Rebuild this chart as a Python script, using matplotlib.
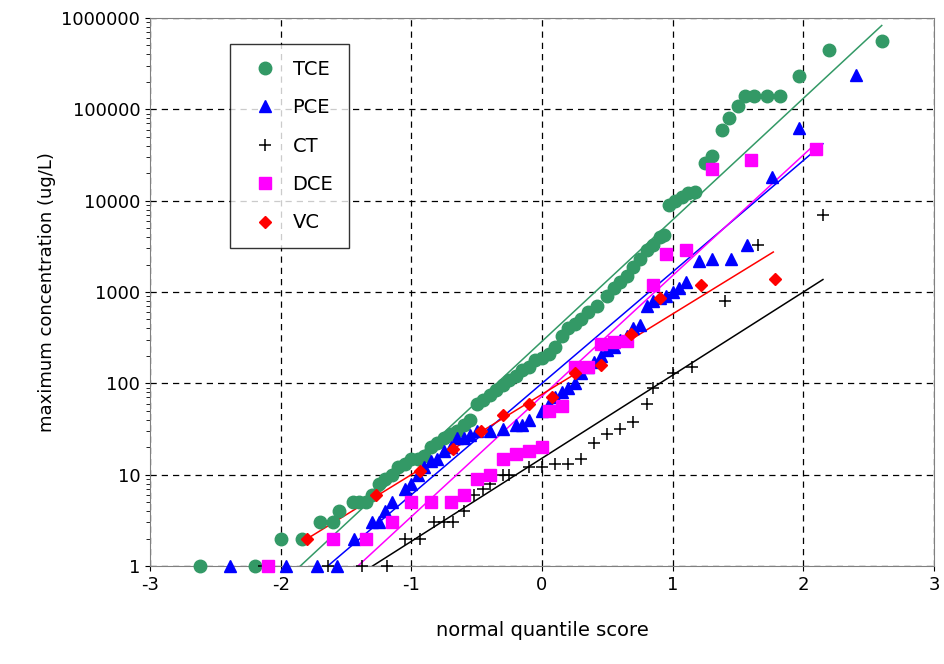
import numpy as np
import matplotlib
matplotlib.use("Agg")
import matplotlib.pyplot as plt
from matplotlib.ticker import FixedLocator, FixedFormatter, NullFormatter, LogLocator

plt.rcParams['axes.unicode_minus'] = False

tce_x = [-2.62,-2.2,-2.0,-1.84,-1.7,-1.6,-1.55,-1.45,-1.4,-1.35,-1.3,-1.25,-1.2,-1.15,-1.1,-1.05,-1.0,-0.95,-0.9,-0.85,-0.8,-0.75,-0.7,-0.65,-0.6,-0.55,-0.5,-0.45,-0.4,-0.35,-0.3,-0.25,-0.2,-0.15,-0.1,-0.05,0,0.05,0.1,0.15,0.2,0.25,0.3,0.35,0.42,0.5,0.55,0.6,0.65,0.7,0.75,0.8,0.85,0.9,0.93,0.97,1.02,1.07,1.12,1.17,1.25,1.3,1.38,1.43,1.5,1.55,1.62,1.72,1.82,1.97,2.2,2.6]
tce_y = [1,1,2,2,3,3,4,5,5,5,6,8,9,10,12,13,15,15,16,20,22,25,28,30,35,40,60,65,75,85,95,110,120,140,150,180,190,210,250,330,400,450,500,600,700,900,1100,1300,1500,1900,2300,2900,3300,4000,4200,9000,10000,11000,12000,12500,26000,31000,60000,80000,110000,140000,140000,140000,140000,230000,450000,560000]

pce_x = [-2.39,-1.96,-1.72,-1.57,-1.44,-1.3,-1.25,-1.2,-1.15,-1.05,-1.0,-0.95,-0.9,-0.85,-0.8,-0.75,-0.7,-0.65,-0.6,-0.55,-0.5,-0.4,-0.3,-0.2,-0.15,-0.1,0,0.05,0.1,0.15,0.2,0.25,0.3,0.35,0.4,0.45,0.5,0.55,0.6,0.65,0.7,0.75,0.8,0.85,0.9,0.95,1.0,1.05,1.1,1.2,1.3,1.45,1.57,1.76,1.97,2.4]
pce_y = [1,1,1,1,2,3,3,4,5,7,8,10,12,14,15,18,20,25,25,27,30,30,32,35,35,40,50,60,70,80,90,100,130,150,170,200,230,250,300,330,400,430,700,800,850,900,1000,1100,1300,2200,2300,2300,3300,18000,63000,240000]

ct_x = [-2.13,-1.64,-1.38,-1.19,-1.05,-0.93,-0.83,-0.75,-0.68,-0.6,-0.52,-0.45,-0.4,-0.3,-0.25,-0.1,0,0.1,0.2,0.3,0.4,0.5,0.6,0.7,0.8,0.85,1.0,1.15,1.4,1.65,2.15]
ct_y = [1,1,1,1,2,2,3,3,3,4,6,7,8,10,10,12,12,13,13,15,22,28,32,38,60,90,130,150,800,3300,7000]

dce_x = [-2.1,-1.6,-1.35,-1.15,-1.0,-0.85,-0.7,-0.6,-0.5,-0.4,-0.3,-0.2,-0.1,0,0.05,0.15,0.25,0.35,0.45,0.55,0.65,0.85,0.95,1.1,1.3,1.6,2.1]
dce_y = [1,2,2,3,5,5,5,6,9,10,15,17,18,20,50,57,150,150,270,280,290,1200,2600,2900,22000,28000,37000]

vc_x = [-1.8,-1.27,-0.93,-0.68,-0.47,-0.3,-0.1,0.08,0.25,0.45,0.68,0.9,1.22,1.78]
vc_y = [2,6,11,19,30,45,60,70,130,160,350,850,1200,1400]

# fitted lognormal lines: (x start, x end, log10 intercept at x=0, slope per unit)
fits = {
    "TCE": (-1.85, 2.6, 2.46, 1.33),
    "PCE": (-1.64, 2.15, 2.00, 1.22),
    "CT":  (-1.30, 2.15, 1.18, 0.91),
    "DCE": (-1.41, 2.07, 1.86, 1.32),
    "VC":  (-1.79, 1.77, 1.88, 0.88),
}

fig = plt.figure(figsize=(9.45, 6.64), dpi=100)
ax = fig.add_axes([150/945, 1-566/664, (934-150)/945, (566-18)/664])

series = [
    ("TCE", tce_x, tce_y, dict(marker='o', color='#339966', ms=9, ls='none')),
    ("PCE", pce_x, pce_y, dict(marker='^', color='#0000ff', ms=9, ls='none')),
    ("CT", ct_x, ct_y, dict(marker='+', color='black', ms=9, mew=1.1, ls='none')),
    ("DCE", dce_x, dce_y, dict(marker='s', color='#ff00ff', ms=9, ls='none')),
    ("VC", vc_x, vc_y, dict(marker='D', color='#ff0000', ms=6.5, ls='none')),
]
for name, xs, ys, st in series:
    ax.plot(xs, ys, label=name, clip_on=False, zorder=3, **st)
    x0, x1, b, m = fits[name]
    xx = np.linspace(x0, x1, 50)
    ax.plot(xx, 10**(b + m*xx), color=st['color'], lw=1.1, zorder=2)

ax.set_yscale('log')
ax.set_xlim(-3, 3)
ax.set_ylim(1, 1e6)
yt = [1,10,100,1000,10000,100000,1000000]
ax.yaxis.set_major_locator(FixedLocator(yt))
ax.yaxis.set_major_formatter(FixedFormatter([str(v) for v in yt]))
ax.yaxis.set_minor_locator(LogLocator(base=10, subs=np.arange(2, 10), numticks=20))
ax.yaxis.set_minor_formatter(NullFormatter())
ax.set_xticks([-3,-2,-1,0,1,2,3])
ax.grid(True, which='major', ls=(0,(5,4)), color='black', lw=0.9)
ax.tick_params(labelsize=13, direction='out')
ax.tick_params(axis='y', which='minor', length=3)
ax.set_xlabel('normal quantile score', fontsize=14, labelpad=20)
ax.set_ylabel('maximum concentration (ug/L)', fontsize=13)
for s in ax.spines.values():
    s.set_color('#808080')
leg = ax.legend(loc='upper left', bbox_to_anchor=(0.09, 0.97), fontsize=14, frameon=True,
                fancybox=False, edgecolor='black', labelspacing=1.0, handletextpad=0.4, borderpad=0.8)
leg.get_frame().set_linewidth(1.0)
fig.savefig('out.png', dpi=100)
